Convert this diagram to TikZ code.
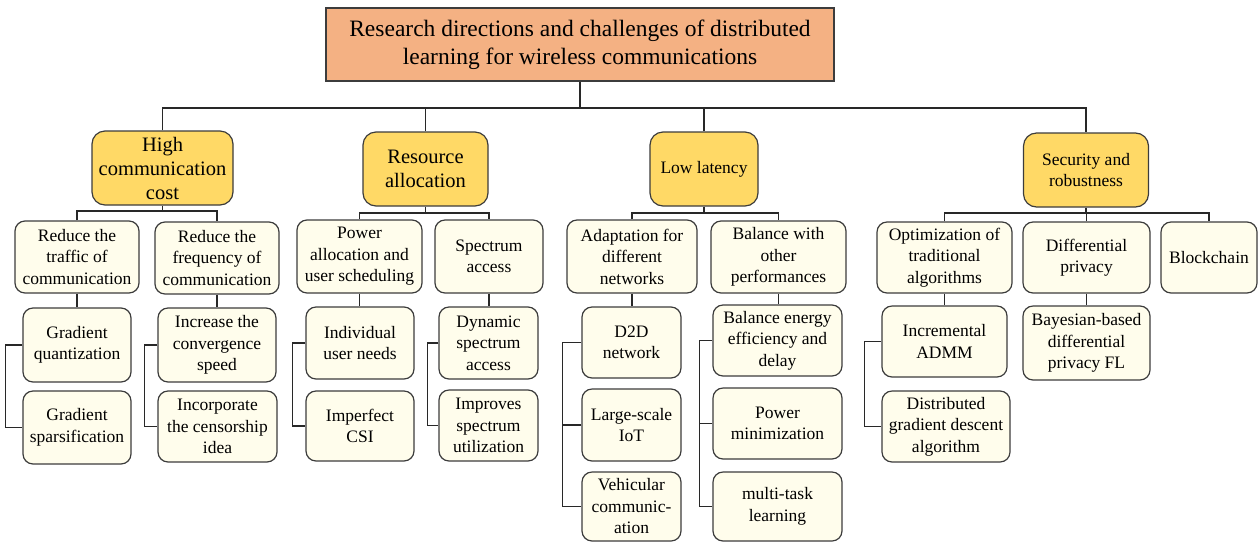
\documentclass[tikz,border=0pt]{standalone}
\usepackage{fontspec}
\setmainfont{Liberation Serif}
\definecolor{titlec}{RGB}{244,177,131}
\definecolor{catc}{RGB}{255,217,102}
\definecolor{subc}{RGB}{255,253,236}
\definecolor{bordc}{RGB}{60,60,60}
\definecolor{linec}{RGB}{40,40,40}
\begin{document}
\begin{tikzpicture}[x=1pt,y=-1pt,
 box/.style={draw=bordc, line width=1.2pt, align=center, inner sep=0pt},
 sz/.style 2 args={minimum width=#1, minimum height=#2},
 titlebox/.style={box, fill=titlec, font=\fontsize{23.5}{28}\selectfont},
 catbox/.style={box, fill=catc, rounded corners=13pt, font=\fontsize{20.5}{24}\selectfont},
 smallcat/.style={font=\fontsize{17.5}{21.5}\selectfont},
 subbox/.style={box, fill=subc, rounded corners=10pt, font=\fontsize{17.5}{21.5}\selectfont},
 link/.style={draw=linec, line width=1.8pt}]
\useasboundingbox (0,0) rectangle (1258,542);
% title
\node[titlebox, sz={508}{73}] (title) at (580,44.5) {Research directions and challenges of distributed\\learning for wireless communications};
% categories
\node[catbox, sz={141}{74}] (hc) at (162.5,168) {High\\communication\\cost};
\node[catbox, sz={125}{74}] (ra) at (425.5,169) {Resource\\allocation};
\node[catbox, smallcat, sz={108}{74}] (ll) at (704,169) {Low latency};
\node[catbox, smallcat, sz={125}{74}] (sec) at (1086,170) {Security and\\robustness};
% level 2
\node[subbox, sz={124}{72}] (a1) at (77,257) {Reduce the\\traffic of\\communication};
\node[subbox, sz={124}{72}] (a2) at (217,258) {Reduce the\\frequency of\\communication};
\node[subbox, sz={125}{73}] (b1) at (359.5,256.5) {Power\\allocation and\\user scheduling};
\node[subbox, sz={108}{73}] (b2) at (489,256.5) {Spectrum\\access};
\node[subbox, sz={130}{73}] (c1) at (632,256.5) {Adaptation for\\different\\networks};
\node[subbox, sz={135}{72}] (c2) at (778.5,257) {Balance with\\other\\performances};
\node[subbox, sz={135}{71}] (d1) at (944.5,257.5) {Optimization of\\traditional\\algorithms};
\node[subbox, sz={127}{71}] (d2) at (1086.5,257.5) {Differential\\privacy};
\node[subbox, sz={96}{71}] (d3) at (1209,257.5) {Blockchain};
% level 3
\node[subbox, sz={108}{74}] (a11) at (77,345) {Gradient\\quantization};
\node[subbox, sz={108}{73}] (a12) at (77,427.5) {Gradient\\sparsification};
\node[subbox, sz={118}{74}] (a21) at (217,345) {Increase the\\convergence\\speed};
\node[subbox, sz={119}{71}] (a22) at (217.5,426.5) {Incorporate\\the censorship\\idea};
\node[subbox, sz={108}{72}] (b11) at (360,343) {Individual\\user needs};
\node[subbox, sz={108}{70}] (b12) at (360,426) {Imperfect\\CSI};
\node[subbox, sz={99}{72}] (b21) at (488.5,343) {Dynamic\\spectrum\\access};
\node[subbox, sz={99}{71}] (b22) at (488.5,425.5) {Improves\\spectrum\\utilization};
\node[subbox, sz={99}{71}] (c11) at (631.5,342.5) {D2D\\network};
\node[subbox, sz={99}{72}] (c12) at (631.5,425) {Large-scale\\IoT};
\node[subbox, sz={99}{69}] (c13) at (631.5,506.5) {Vehicular\\communic-\\ation};
\node[subbox, sz={129}{71}] (c21) at (777.5,340.5) {Balance energy\\efficiency and\\delay};
\node[subbox, sz={129}{71}] (c22) at (777.5,423.5) {Power\\minimization};
\node[subbox, sz={129}{69}] (c23) at (777.5,506.5) {multi-task\\learning};
\node[subbox, sz={125}{71}] (d11) at (944.5,341.5) {Incremental\\ADMM};
\node[subbox, sz={128}{71}] (d12) at (946,426.5) {Distributed\\gradient descent\\algorithm};
\node[subbox, sz={127}{74}] (d21) at (1086.5,343) {Bayesian-based\\differential\\privacy FL};
% title to categories
\coordinate (bus) at (580,108);
\draw[link] (title.south) -- (bus);
\draw[link] (hc.north) -- (hc.north |- bus) -- (sec.north |- bus) -- (sec.north);
\draw[link] (ra.north) -- (ra.north |- bus);
\draw[link] (ll.north) -- (ll.north |- bus);
% categories to level 2
\draw[link] (hc.south) -- (hc.south |- 0,211);
\draw[link] (a1.north) -- (a1.north |- 0,211) -- (a2.north |- 0,211) -- (a2.north);
\draw[link] (ra.south) -- (ra.south |- 0,213);
\draw[link] (b1.north) -- (b1.north |- 0,213) -- (b2.north |- 0,213) -- (b2.north);
\draw[link] (ll.south) -- (ll.south |- 0,213);
\draw[link] (c1.north) -- (c1.north |- 0,213) -- (c2.north |- 0,213) -- (c2.north);
\draw[link] (sec.south) -- (sec.south |- 0,213);
\draw[link] (d1.north) -- (d1.north |- 0,213) -- (d3.north |- 0,213) -- (d3.north);
\draw[link] (d2.north) -- (d2.north |- 0,213);
% level 2 to level 3
\draw[link] (a1.south) -- (a1.south |- a11.north);
\draw[link] (a2.south) -- (a2.south |- a21.north);
\draw[link] (b1.south) -- (b1.south |- b11.north);
\draw[link] (b2.south) -- (b2.south |- b21.north);
\draw[link] (c1.south) -- (c1.south |- c11.north);
\draw[link] (c2.south) -- (c2.south |- c21.north);
\draw[link] (d1.south) -- (d1.south |- d11.north);
\draw[link] (d2.south) -- (d2.south |- d21.north);
% brackets
\draw[link] (a11.west) -- ++(-17,0) |- (a12.west);
\draw[link] (a21.west) -- ++(-13,0) |- (a22.west);
\draw[link] (b11.west) -- ++(-13,0) |- (b12.west);
\draw[link] (b21.west) -- ++(-11,0) |- (b22.west);
\draw[link] (c11.west) -- ++(-19,0) |- (c13.west);
\draw[link] (c12.west) -- ++(-19,0);
\draw[link] (c21.west) -- ++(-13,0) |- (c23.west);
\draw[link] (c22.west) -- ++(-13,0);
\draw[link] (d11.west) -- ++(-17,0) |- (d12.west);
\end{tikzpicture}
\end{document}
